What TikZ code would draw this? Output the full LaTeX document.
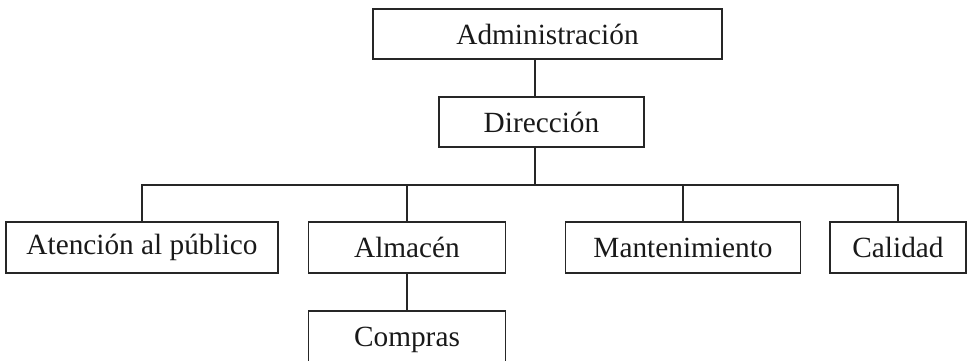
\documentclass[tikz,border=0pt]{standalone}
\usepackage{fontspec}
\setmainfont{Liberation Serif}
\begin{document}
\begin{tikzpicture}[x=1pt,y=-1pt,
  box/.style={draw=black!85, line width=1.8pt, inner sep=0pt, outer sep=0pt,
    minimum height=50pt, font=\fontsize{29.3}{34}\selectfont, text=black!90},
  link/.style={draw=black!85, line width=1.8pt}]
\useasboundingbox (0,0) rectangle (967,360);
\clip (0,0) rectangle (967,360);
\node[box, minimum width=349pt] (adm) at (547.5,34) {Administración};
\node[box, minimum width=205pt] (dir) at (541.5,122) {Dirección};
\node[box, minimum width=272pt, minimum height=51pt] (ate) at (142,247.5) {Atención al público};
\node[box, minimum width=197pt, minimum height=51pt] (alm) at (407,247.5) {Almacén};
\node[box, minimum width=235pt, minimum height=51pt] (man) at (683,247.5) {Mantenimiento};
\node[box, minimum width=136pt, minimum height=51pt] (cal) at (898,247.5) {Calidad};
\node[box, minimum width=197pt, minimum height=58pt] (com) at (407,340) {\raisebox{4pt}{Compras}};
\coordinate (sp) at (535,0);
\coordinate (bus) at (0,185);
\draw[link] (adm.south -| sp) -- (dir.north -| sp);
\draw[link] (dir.south -| sp) -- (bus -| sp);
\draw[link] (ate.north) -- (ate.north |- bus) -- (cal.north |- bus) -- (cal.north);
\draw[link] (alm.north) -- (alm.north |- bus);
\draw[link] (man.north) -- (man.north |- bus);
\draw[link] (alm.south) -- (com.north);
\end{tikzpicture}
\end{document}
